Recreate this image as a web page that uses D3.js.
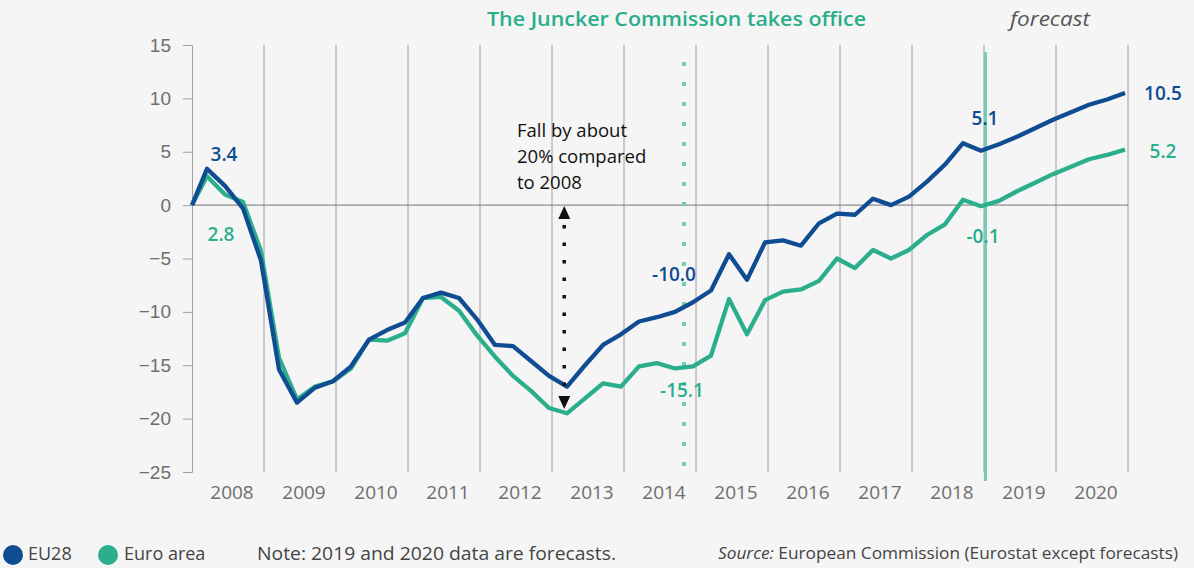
<!DOCTYPE html>
<html>
<head>
<meta charset="utf-8">
<script src="https://d3js.org/d3.v7.min.js"></script>
<style>
  body { margin: 0; background: #f5f5f5; }
  svg { display: block; font-family: "Open Sans", "DejaVu Sans", sans-serif; }
</style>
</head>
<body>
<div class="chart"></div>
<script>
// Data: % change vs 2008 (first value is the base point)
var years = [2008, 2009, 2010, 2011, 2012, 2013, 2014, 2015, 2016, 2017, 2018, 2019, 2020];
var yTicks = [15, 10, 5, 0, -5, -10, -15, -20, -25];

var eu28 = [0, 3.4, 1.8, -0.3, -5.2, -15.4, -18.5, -17.1, -16.5, -15.1, -12.6, -11.7, -11.0,
  -8.7, -8.2, -8.7, -10.7, -13.1, -13.2, -14.6, -16.0, -17.0, -15.0, -13.1, -12.1, -10.9,
  -10.5, -10.0, -9.1, -8.0, -4.6, -7.0, -3.5, -3.3, -3.8, -1.7, -0.8, -0.9, 0.6, 0.0, 0.8,
  2.2, 3.8, 5.8, 5.1, 5.7, 6.4, 7.2, 8.0, 8.7, 9.4, 9.9, 10.5];

var euroArea = [0, 2.7, 1.0, 0.3, -4.3, -14.3, -18.2, -17.0, -16.5, -15.3, -12.6, -12.7, -12.0,
  -8.7, -8.6, -9.9, -12.2, -14.2, -16.0, -17.4, -19.0, -19.5, -18.1, -16.7, -17.0, -15.1,
  -14.8, -15.3, -15.1, -14.1, -8.8, -12.1, -8.9, -8.1, -7.9, -7.1, -5.0, -5.9, -4.2, -5.0,
  -4.2, -2.8, -1.8, 0.5, -0.1, 0.4, 1.3, 2.1, 2.9, 3.6, 4.3, 4.7, 5.2];

// labelled points: [series, index, text]
var callouts = [
  ["eu", 1, "3.4"], ["ea", 1, "2.8"],
  ["eu", 27, "-10.0"], ["ea", 28, "-15.1"],
  ["eu", 44, "5.1"], ["ea", 44, "-0.1"],
  ["eu", 52, "10.5"], ["ea", 52, "5.2"]
];

var junckerTime = 2014.833;   // Nov 2014
var forecastTime = 2019.02;   // forecasts start in 2019

var blue = "#0f4c92";
var green = "#2aae8c";
var lightGreen = "#72cbb2";
var grey = "#6e6e6e";

var svgWidth = 1194;
var svgHeight = 568;

var svg = d3.select(".chart")
  .append("svg")
  .attr("width", svgWidth)
  .attr("height", svgHeight);

svg.append("rect").attr("width", svgWidth).attr("height", svgHeight).attr("fill", "#f5f5f5");

// Step 1: scales
// ==============================
var xScale = d3.scaleLinear().domain([2008, 2021]).range([192, 1128]);
var yScale = d3.scaleLinear().domain([-25, 15]).range([472, 45]);

// time of each point: base at start of 2008, then one per quarter
function timeOf(i) {
  if (i === 0) return 2008;
  return 2008 + (i - 1 + 0.833) / 4;
}

// Step 2: grid + axes
// ==============================
svg.append("g")
  .selectAll("line")
  .data(years.map(d => d + 1))
  .enter()
  .append("line")
  .attr("x1", d => xScale(d))
  .attr("x2", d => xScale(d))
  .attr("y1", yScale(15))
  .attr("y2", yScale(-25))
  .attr("stroke", "#a0a0a0")
  .attr("stroke-width", 1);

svg.append("line")
  .attr("x1", xScale(2008)).attr("x2", xScale(2021))
  .attr("y1", yScale(0)).attr("y2", yScale(0))
  .attr("stroke", "#8c8c8c").attr("stroke-width", 1.3);

var leftAxis = d3.axisLeft(yScale).tickValues(yTicks).tickSize(9).tickPadding(12);
var yAxis = svg.append("g")
  .attr("transform", `translate(${xScale(2008)}, 0)`)
  .call(leftAxis);
yAxis.select(".domain").attr("stroke", "#a0a0a0");
yAxis.selectAll(".tick line").attr("stroke", "#a0a0a0");
yAxis.selectAll("text")
  .style("font-size", "19px")
  .attr("fill", grey);

svg.append("g")
  .selectAll("text")
  .data(years)
  .enter()
  .append("text")
  .attr("x", d => xScale(d + 0.5) + 4)
  .attr("y", 499)
  .attr("text-anchor", "middle")
  .style("font-size", "19px")
  .attr("fill", grey)
  .text(d => d);

// Step 3: marker lines
// ==============================
svg.append("line")
  .attr("x1", xScale(junckerTime)).attr("x2", xScale(junckerTime))
  .attr("y1", 62).attr("y2", 470)
  .attr("stroke", lightGreen)
  .attr("stroke-width", 4)
  .attr("stroke-dasharray", "4 16");

svg.append("line")
  .attr("x1", xScale(forecastTime)).attr("x2", xScale(forecastTime))
  .attr("y1", 52).attr("y2", 481)
  .attr("stroke", lightGreen)
  .attr("stroke-width", 3);

svg.append("text")
  .attr("x", 487).attr("y", 26)
  .attr("textLength", 379).attr("lengthAdjust", "spacingAndGlyphs")
  .style("font-size", "20px").style("font-weight", 600)
  .attr("fill", green)
  .text("The Juncker Commission takes office");

svg.append("text")
  .attr("x", 1010).attr("y", 26)
  .attr("textLength", 80).attr("lengthAdjust", "spacingAndGlyphs")
  .style("font-size", "20px").style("font-style", "italic")
  .attr("fill", "#555")
  .text("forecast");

// Step 4: lines
// ==============================
var line = d3.line()
  .x((d, i) => xScale(timeOf(i)))
  .y(d => yScale(d));

svg.append("path")
  .datum(euroArea)
  .attr("d", line)
  .attr("fill", "none")
  .attr("stroke", green)
  .attr("stroke-width", 4.3)
  .attr("stroke-linejoin", "round");

svg.append("path")
  .datum(eu28)
  .attr("d", line)
  .attr("fill", "none")
  .attr("stroke", blue)
  .attr("stroke-width", 4.3)
  .attr("stroke-linejoin", "round");

// Step 5: value labels
// ==============================
var offsets = {
  "3.4": [17, -8], "2.8": [14, 65],
  "-10.0": [-1, -31], "-15.1": [-11, 31],
  "5.1": [4, -26], "-0.1": [2, 37],
  "10.5": [38, 7], "5.2": [38, 8]
};
svg.append("g")
  .selectAll("text")
  .data(callouts)
  .enter()
  .append("text")
  .attr("x", d => xScale(timeOf(d[1])) + offsets[d[2]][0])
  .attr("y", d => yScale(d[0] === "eu" ? eu28[d[1]] : euroArea[d[1]]) + offsets[d[2]][1])
  .attr("text-anchor", "middle")
  .style("font-size", "19px")
  .style("font-weight", 600)
  .attr("fill", d => d[0] === "eu" ? blue : green)
  .text(d => d[2]);

// Step 6: "fall by 20%" annotation
// ==============================
var arrowX = xScale(2013.17);
svg.append("line")
  .attr("x1", arrowX).attr("x2", arrowX)
  .attr("y1", 225).attr("y2", 395)
  .attr("stroke", "#111")
  .attr("stroke-width", 3.5)
  .attr("stroke-dasharray", "3.5 14");
svg.append("path")
  .attr("d", `M${arrowX},206 L${arrowX - 6},219 L${arrowX + 6},219 Z`)
  .attr("fill", "#111");
svg.append("path")
  .attr("d", `M${arrowX},409 L${arrowX - 6},396 L${arrowX + 6},396 Z`)
  .attr("fill", "#111");

var note = ["Fall by about", "20% compared", "to 2008"];
svg.append("g")
  .selectAll("text")
  .data(note)
  .enter()
  .append("text")
  .attr("x", 517)
  .attr("y", (d, i) => 137 + i * 26)
  .style("font-size", "18.5px")
  .attr("fill", "#111")
  .text(d => d);

// Step 7: legend + footer
// ==============================
var legend = [["EU28", blue, 13, 28], ["Euro area", green, 108, 124]];
legend.forEach(function(d) {
  svg.append("circle").attr("cx", d[2]).attr("cy", 555).attr("r", 10).attr("fill", d[1]);
  svg.append("text").attr("x", d[3]).attr("y", 560)
    .style("font-size", "18px").attr("fill", "#444").text(d[0]);
});

svg.append("text").attr("x", 257).attr("y", 560)
  .attr("textLength", 359).attr("lengthAdjust", "spacingAndGlyphs")
  .style("font-size", "18px").attr("fill", "#444")
  .text("Note: 2019 and 2020 data are forecasts.");

// the source line is squeezed so it stays inside the picture
var src = svg.append("text").attr("x", 718).attr("y", 559)
  .attr("textLength", 460).attr("lengthAdjust", "spacingAndGlyphs")
  .style("font-size", "17px").attr("fill", "#444");
src.append("tspan").style("font-style", "italic").text("Source:");
src.append("tspan").text(" European Commission (Eurostat except forecasts)");
</script>
</body>
</html>
